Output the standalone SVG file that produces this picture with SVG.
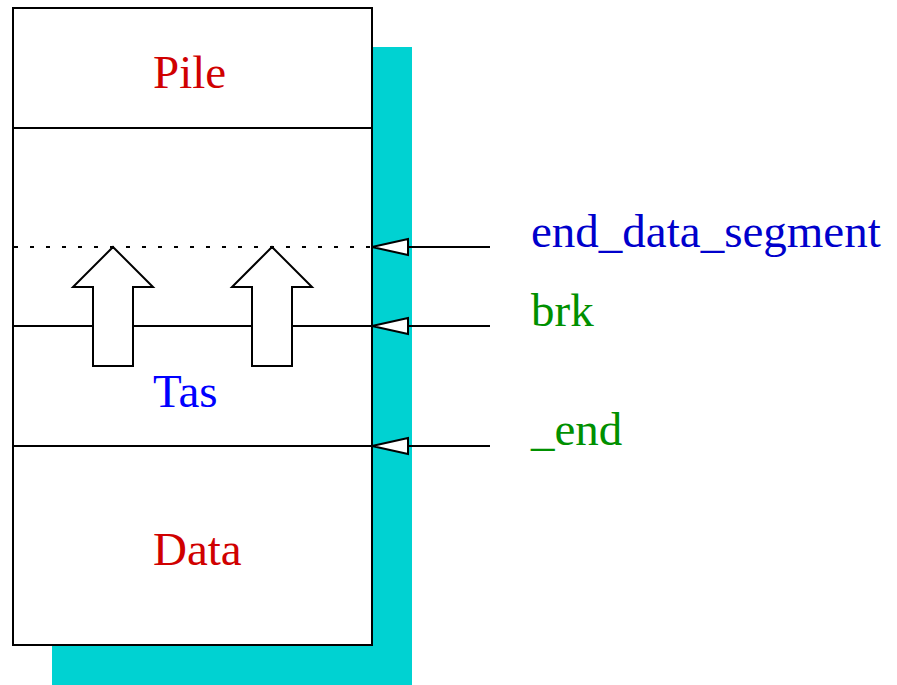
<svg xmlns="http://www.w3.org/2000/svg" width="897" height="685" viewBox="0 0 897 685">
<defs>
<style>
text{font-family:"Liberation Serif","Times New Roman",serif;font-size:47px}
.red{fill:#d00000}
.blue{fill:#0000e0}
.green{fill:#009000}
.ln{stroke:#000;stroke-width:2;fill:none}
.up{stroke:#000;stroke-width:2;fill:#fff}
.head{stroke:#000;stroke-width:2;fill:#fff}
</style>
</defs>
<rect id="shadow" x="52" y="47" width="360" height="638" fill="#00d2d2"/>
<g id="memory">
<rect x="13" y="8" width="359" height="637" fill="#fff" stroke="#000" stroke-width="2"/>
<line class="ln" x1="13" y1="128" x2="372" y2="128"/>
<line class="ln" x1="13" y1="247" x2="372" y2="247" stroke-dasharray="4 12" stroke-dashoffset="-1"/>
<line class="ln" x1="13" y1="326" x2="372" y2="326"/>
<line class="ln" x1="13" y1="446" x2="372" y2="446"/>
</g>
<g id="pile"><text class="red" x="153" y="88">Pile</text></g>
<g id="tas"><text class="blue" x="153" y="407" style="fill:#0000ff">Tas</text></g>
<g id="data"><text class="red" x="153" y="565">Data</text></g>
<g id="arrow1"><path class="up" d="M113,247 L153,287 L133,287 L133,366 L93,366 L93,287 L73,287 Z"/></g>
<g id="arrow2"><path class="up" d="M272,247 L312,287 L292,287 L292,366 L252,366 L252,287 L232,287 Z"/></g>
<g id="connectors">
<line class="ln" x1="490" y1="247" x2="408" y2="247"/>
<path class="head" d="M372,247 L408,239 L408,255 Z"/>
<line class="ln" x1="490" y1="326" x2="408" y2="326"/>
<path class="head" d="M372,326 L408,318 L408,334 Z"/>
<line class="ln" x1="490" y1="446" x2="408" y2="446"/>
<path class="head" d="M372,446 L408,438 L408,454 Z"/>
</g>
<g id="label-eds"><text class="blue" x="531" y="247" style="fill:#0000cc">end_data_segment</text></g>
<g id="label-brk"><text class="green" x="531" y="326">brk</text></g>
<g id="label-end"><text class="green" x="531" y="445">_end</text></g>
</svg>
